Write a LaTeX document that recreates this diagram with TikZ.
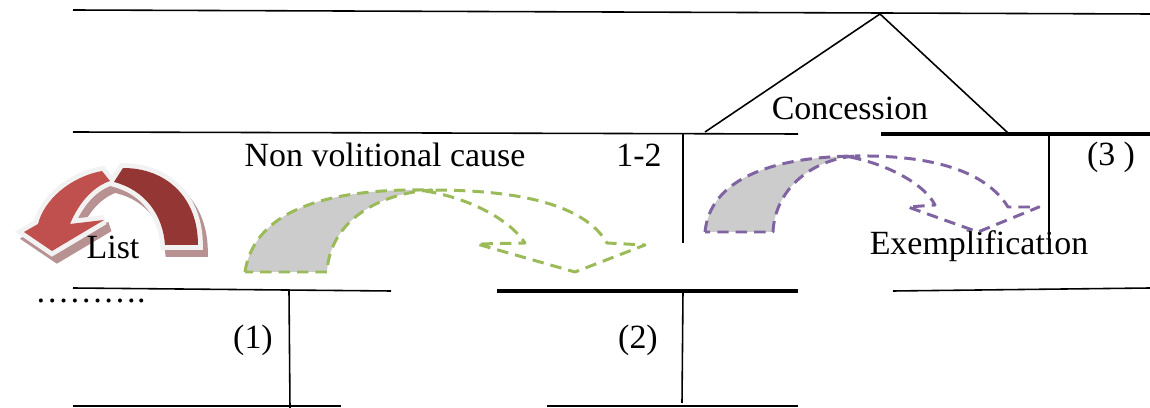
\documentclass[tikz,border=0pt]{standalone}
\usepackage{fontspec}
\setmainfont{Liberation Serif}
\usetikzlibrary{positioning}

\definecolor{leafgreen}{HTML}{9BBB59}
\definecolor{lavender}{HTML}{8064A2}
\definecolor{brickred}{HTML}{C0504D}
\definecolor{darkbrick}{HTML}{943634}
\definecolor{shadowpink}{HTML}{B89292}
\definecolor{rimwhite}{HTML}{F2F2F2}

\begin{document}
\begin{tikzpicture}[x=0.02cm, y=-0.02cm,
    lbl/.style={font=\fontsize{19.3}{22}\selectfont, inner sep=0pt},
    rule/.style={line width=0.9pt},
    boldrule/.style={line width=1.9pt},
    post/.style={line width=1.4pt},
    flowgreen/.style={draw=leafgreen, line width=1.7pt, dash pattern=on 6.5pt off 4pt, line join=round},
    flowpurple/.style={draw=lavender, line width=1.7pt, dash pattern=on 6.5pt off 4pt, line join=round},
    backfill/.style={fill=black!20},
    rim/.style={draw=#1, line width=5.5pt, line join=miter, miter limit=3}
]
\useasboundingbox (0,0) rectangle (1150,408);

% tree lines
\draw[rule] (73,10) -- (1150,14);
\draw[rule] (705,132) -- (880,14) -- (1008,133);
\draw[rule] (73,132) -- (798,134);
\draw[boldrule] (881,134) -- (1150,134);
\draw[post] (683,134) -- (683,243);
\draw[post] (1049,134) -- (1049,245);
\draw[rule] (73,288) -- (391,291);
\draw[boldrule] (497,291) -- (798,291);
\draw[rule] (893,291) -- (1150,288);
\draw[rule] (289,291) -- (290,408);
\draw[rule] (683,291) -- (682,403);
\draw[rule] (73,406) -- (341,406);
\draw[rule] (547,406) -- (798,406);

% red curved arrow: shadow, rim, then body
\begin{scope}[shift={(5,7)}]
  \filldraw[fill=shadowpink, rim=shadowpink]
    (198,245) .. controls (198,197) and (166,168) .. (123,168) -- (114,182)
    .. controls (145,190) and (163,215) .. (165,245) -- cycle;
  \filldraw[fill=shadowpink, rim=shadowpink]
    (102,171) .. controls (70,177) and (44,200) .. (38,224) -- (24,232) -- (52,251)
    -- (104,220) -- (70,224) .. controls (80,200) and (95,186) .. (110,181) -- cycle;
\end{scope}
\filldraw[fill=rimwhite, rim=rimwhite]
  (198,245) .. controls (198,197) and (166,168) .. (123,168) -- (114,182)
  .. controls (145,190) and (163,215) .. (165,245) -- cycle;
\filldraw[fill=rimwhite, rim=rimwhite]
  (102,171) .. controls (70,177) and (44,200) .. (38,224) -- (24,232) -- (52,251)
  -- (104,220) -- (70,224) .. controls (80,200) and (95,186) .. (110,181) -- cycle;
\fill[darkbrick]
  (198,245) .. controls (198,197) and (166,168) .. (123,168) -- (114,182)
  .. controls (145,190) and (163,215) .. (165,245) -- cycle;
\fill[brickred]
  (102,171) .. controls (70,177) and (44,200) .. (38,224) -- (24,232) -- (52,251)
  -- (104,220) -- (70,224) .. controls (80,200) and (95,186) .. (110,181) -- cycle;

% labels
\node[lbl] (concession) at (850,108) {Concession};
\node[lbl] (cause) at (385,155) {Non volitional cause};
\node[lbl] (span12) at (639,155) {1-2};
\node[lbl] (unit3) at (1111,157) {(3 )};
\node[lbl] (list) at (113,247) {List};
\node[lbl] (exempl) at (979,246) {Exemplification};
\node[lbl] (unit1) at (253,340) {(1)};
\node[lbl] (unit2) at (638,340) {(2)};
\node[lbl, anchor=base west] (dots) at (35,303) {……….};

% green dashed curved arrow
\path[backfill, flowgreen]
  (245,272) .. controls (255,205) and (340,188) .. (432,190)
  .. controls (380,193) and (330,220) .. (327,272) -- cycle;
\draw[flowgreen]
  (425,191) .. controls (470,198) and (510,220) .. (525,243) -- (477,244)
  -- (575,272) -- (645,245) -- (607,243) .. controls (585,205) and (520,190) .. (432,190);

% purple dashed curved arrow
\path[backfill, flowpurple]
  (705,232) .. controls (710,180) and (770,157) .. (855,156)
  .. controls (810,160) and (775,190) .. (773,232) -- cycle;
\draw[flowpurple]
  (850,157) .. controls (890,165) and (925,185) .. (935,205) -- (908,207)
  -- (978,232) -- (1039,207) -- (1008,207) .. controls (985,170) and (930,155) .. (855,156);
\end{tikzpicture}
\end{document}
